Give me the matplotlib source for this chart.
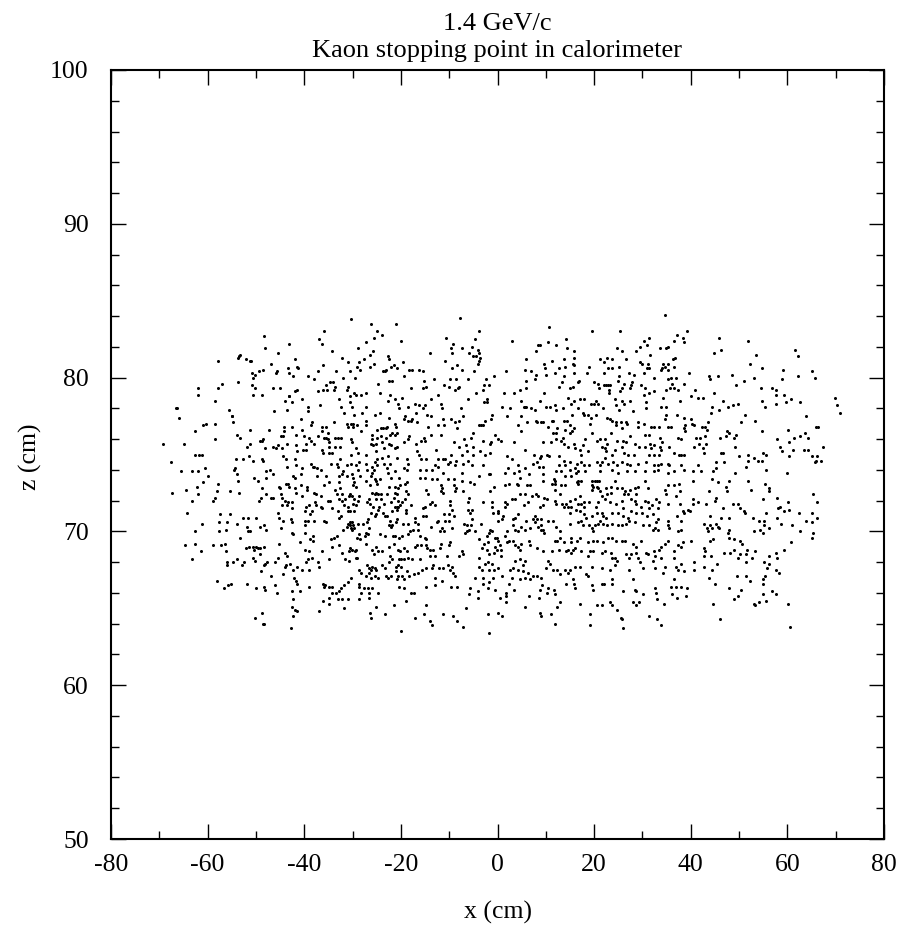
import numpy as np
import matplotlib
matplotlib.use("Agg")
import matplotlib.pyplot as plt
from matplotlib.ticker import MultipleLocator

# ---- data (x, z) in cm, grouped by region ----
region_far_left_upper = [
(-48.4,82.7),(-48.2,81.9),(-45.5,81.6),(-53.3,81.5),(-53.5,81.4),(-53.7,81.3),(-52.1,81.2),(-51.3,81.1),
(-51.0,81.1),(-57.9,81.1),(-46.8,80.9),(-48.5,80.5),(-49.4,80.4),(-50.2,80.2),(-50.8,80.3),(-45.6,80.4),
(-45.8,80.3),(-50.7,80.0),(-43.4,80.6),(-53.7,79.7),(-57.0,79.6),(-50.9,79.5),(-50.1,79.3),(-57.9,79.3),
(-61.9,79.3),(-62.0,78.9),(-46.5,79.3),(-45.0,79.3),(-50.7,78.9),(-48.7,78.9),(-43.2,78.8),(-58.5,78.5),
(-44.0,78.5),(-66.4,78.0),(-66.6,78.0),(-55.5,77.9),(-43.5,77.9),(-46.2,77.8),(-55.0,77.5),(-54.9,77.5),
(-65.9,77.4),(-54.7,77.1),(-58.5,77.0),(-60.4,77.0),(-61.0,76.9),(-44.1,76.8),(-62.6,76.5),(-51.2,76.6),
(-47.3,76.6),(-44.1,76.5),(-53.9,76.3),(-53.2,76.1),(-44.8,76.2),(-44.3,76.2),(-58.5,76.0),(-48.5,76.0),
(-48.8,75.9),(-49.1,75.9),(-69.3,75.7),(-64.9,75.7),(-51.3,75.7),(-51.8,75.5),(-46.5,75.5),(-45.8,75.4),
(-45.5,75.6),(-44.6,75.4),(-43.5,75.7),(-48.1,75.4),(-44.3,74.9),(-43.7,74.7),(-51.4,74.9),(-62.6,75.0),
(-61.8,75.0),(-61.1,75.0),(-67.5,74.5),(-54.2,74.7),(-52.7,74.7),(-50.6,74.6),(-48.7,74.7),(-48.5,74.6),
(-60.5,74.1),(-54.4,74.1),(-54.6,74.0),(-43.5,74.2),(-65.6,73.9),(-63.2,73.9),(-61.9,73.9),(-54.0,73.7),
(-47.9,73.9),(-47.0,74.0),(-46.4,73.7),
]

region_far_left_lower = [
(-59.9,73.6),(-53.7,73.3),(-50.4,73.5),(-49.6,73.3),(-47.9,73.5),(-61.0,73.2),(-57.9,73.1),(-62.1,72.9),
(-64.4,72.7),(-58.1,72.6),(-55.3,72.6),(-53.6,72.5),(-48.7,72.8),(-45.3,72.9),(-45.0,72.8),(-43.4,73.1),
(-43.7,73.1),(-43.2,72.9),(-67.3,72.5),(-61.9,72.4),(-48.0,72.4),(-44.9,72.4),(-58.4,72.2),(-58.8,72.0),
(-63.3,72.0),(-48.9,72.2),(-49.4,72.0),(-46.8,72.2),(-46.5,72.2),(-44.7,72.2),(-43.9,72.0),(-43.4,71.9),
(-44.6,71.7),(-43.6,71.7),(-64.2,71.2),(-57.5,71.1),(-55.4,71.1),(-52.6,70.9),(-51.6,70.9),(-50.0,70.9),
(-45.4,71.2),(-45.3,70.9),(-57.6,70.6),(-55.9,70.6),(-54.0,70.5),(-61.1,70.5),(-44.5,70.7),(-48.3,70.4),
(-49.2,70.3),(-47.9,70.1),(-51.9,70.3),(-44.9,70.2),(-56.3,70.1),(-57.7,70.0),(-62.6,70.0),(-51.6,70.0),
(-51.2,70.0),(-53.4,69.6),(-62.6,69.2),(-56.4,69.2),(-57.3,69.1),(-58.8,69.1),(-64.7,69.1),(-51.5,69.0),
(-50.6,69.0),(-49.9,69.0),(-49.5,68.9),(-48.4,69.0),(-49.2,68.9),(-52.1,68.9),(-45.2,69.2),(-56.2,68.7),
(-61.3,68.7),(-50.5,68.8),(-49.2,68.5),(-43.9,68.6),(-43.6,68.4),(-50.6,68.3),(-50.1,68.1),(-45.4,68.3),
(-54.0,68.2),(-63.2,68.2),(-55.9,68.0),(-54.7,68.0),(-52.5,68.0),(-47.8,68.0),(-48.1,67.9),(-48.4,67.8),
(-46.1,68.0),(-56.0,67.8),(-52.9,67.8),(-43.7,67.8),(-43.9,67.7),(-48.9,67.4),(-44.5,67.2),(-46.8,67.1),
(-58.0,66.8),(-55.7,66.5),(-55.2,66.6),(-51.9,66.6),(-56.6,66.3),(-49.9,66.3),(-48.4,66.4),(-48.2,66.2),
(-46.0,66.5),(-45.6,66.0),(-48.8,64.7),(-50.1,64.4),(-48.5,64.0),(-48.3,64.0),
]

region_left_upper = [
(-30.3,83.8),(-26.1,83.5),(-21.1,83.5),(-35.9,83.0),(-24.9,83.0),(-24.0,82.8),(-37.0,82.5),(-36.3,82.2),
(-43.1,82.2),(-25.6,82.6),(-19.9,82.4),(-27.2,82.3),(-28.8,81.9),(-34.3,81.7),(-26.3,81.5),(-25.7,81.7),
(-32.1,81.3),(-22.7,81.4),(-22.5,81.2),(-22.0,80.7),(-27.6,81.2),(-41.9,81.2),(-30.9,81.0),(-36.1,80.8),
(-19.6,81.0),(-28.7,81.0),(-29.1,80.7),(-28.5,80.5),(-41.4,80.7),(-41.3,80.6),(-26.4,80.7),(-25.6,80.9),
(-21.5,80.8),(-20.8,80.6),(-23.8,80.4),(-23.3,80.4),(-23.0,80.5),(-18.3,80.5),(-17.7,80.5),(-16.2,80.5),
(-15.4,80.4),(-37.1,80.4),(-33.5,80.4),(-30.5,80.4),(-42.4,80.1),(-43.1,80.3),(-39.2,80.1),(-19.3,80.1),
(-29.4,80.0),(-31.9,80.0),(-37.9,79.9),(-22.4,79.8),(-21.8,79.8),(-34.7,79.7),(-34.0,79.7),(-35.5,79.5),
(-15.2,79.8),(-33.7,79.4),(-33.8,79.2),(-31.0,79.4),(-31.2,79.2),(-24.8,79.6),(-36.1,79.2),(-35.3,79.2),
(-37.2,79.1),(-41.6,79.2),(-41.9,79.1),(-17.9,79.3),(-15.4,79.3),(-14.9,79.4),(-29.8,79.0),(-29.2,78.9),
(-28.2,78.9),(-27.3,79.0),(-30.5,78.8),(-24.4,79.0),(-22.3,78.9),(-22.7,78.5),(-19.7,78.7),(-21.3,78.6),
(-43.1,78.8),(-42.5,78.4),(-40.4,78.6),(-32.8,78.6),(-30.5,78.4),(-30.2,78.1),(-17.1,78.3),(-16.2,78.2),
(-15.1,78.2),(-15.4,78.0),(-27.2,78.1),(-36.8,78.2),(-39.3,78.1),(-39.2,77.8),(-32.4,78.1),(-20.5,78.3),
(-20.3,78.0),(-18.6,78.1),(-31.8,77.7),(-24.4,77.7),(-25.4,77.6),(-28.0,77.7),(-29.6,77.6),(-16.9,77.7),
(-17.8,77.3),(-19.2,77.5),(-19.4,77.3),(-14.5,77.6),(-40.7,77.3),(-22.5,77.4),(-38.3,77.1),(-38.6,76.9),
(-33.8,77.1),(-31.2,77.0),(-30.9,76.8),(-30.4,77.0),(-29.9,77.0),(-29.9,76.8),(-29.1,76.9),(-27.3,77.2),
(-27.3,76.9),(-42.5,76.8),(-36.3,76.8),(-35.4,76.8),(-36.3,76.5),(-25.0,76.6),(-24.2,76.7),(-23.8,76.7),
(-23.1,76.7),(-22.8,76.8),(-21.2,77.0),(-21.0,76.8),(-18.5,77.2),(-17.9,77.2),(-16.6,77.1),(-14.4,76.8),
(-40.4,76.6),(-35.0,76.4),(-41.8,76.3),(-39.0,76.1),(-38.6,75.9),(-40.0,76.2),(-37.2,76.2),(-36.0,76.1),
(-35.4,76.1),(-35.1,76.0),(-33.7,76.1),(-32.3,76.1),(-33.1,76.1),(-30.3,76.0),(-28.3,76.5),(-26.0,76.3),
(-25.9,76.0),(-25.0,76.1),(-24.1,76.2),(-23.1,76.1),(-22.2,76.3),(-21.8,76.4),(-21.3,76.3),(-20.7,76.4),
(-18.4,76.2),(-18.5,76.0),(-15.3,76.1),(-15.8,75.9),(-41.7,75.6),(-39.6,75.7),(-37.9,75.7),(-34.8,75.8),
(-30.1,75.8),(-26.1,75.7),(-25.7,75.6),(-25.2,75.7),(-23.9,75.8),(-22.4,75.7),(-22.1,75.6),(-19.3,75.8),
(-16.9,75.7),(-15.0,75.9),(-34.9,75.5),(-33.6,75.5),(-32.6,75.5),(-21.2,75.4),(-20.9,75.5),(-23.4,75.4),
(-41.4,75.2),(-39.7,75.3),(-40.3,75.3),(-36.4,75.3),(-36.2,75.1),(-34.9,75.1),(-34.2,75.1),(-29.2,75.4),
(-28.9,75.1),(-25.1,75.2),(-16.7,75.2),(-16.3,75.0),(-30.4,75.0),(-27.3,75.0),(-42.0,74.7),(-32.6,74.7),
(-22.6,74.9),(-20.7,74.8),(-24.9,74.7),(-24.0,74.8),(-15.9,74.7),(-14.9,74.7),(-18.8,74.7),(-38.6,74.4),
(-38.2,74.2),(-37.9,74.2),(-37.4,74.1),(-41.8,74.3),(-34.5,74.4),(-33.3,74.4),(-33.1,74.2),(-31.2,74.3),
(-30.3,74.4),(-29.3,74.3),(-28.6,74.5),(-27.3,74.4),(-25.4,74.5),(-24.9,74.3),(-25.9,74.2),(-23.4,74.4),
(-22.2,74.4),(-18.5,74.4),(-40.4,74.1),(-36.5,74.0),(-31.9,73.9),(-32.2,73.7),(-27.1,74.0),(-28.9,74.0),
(-30.1,73.7),(-26.0,73.8),(-25.5,74.0),(-22.9,74.1),(-22.7,73.8),(-21.3,73.9),(-18.7,74.0),(-19.4,74.1),
(-16.1,74.0),(-14.7,74.0),(-40.7,73.7),
]

region_left_lower = [
(-35.6,73.6),(-32.8,73.6),(-31.2,73.6),(-29.9,73.5),(-28.5,73.6),(-26.2,73.6),(-24.4,73.4),(-25.3,73.4),
(-41.9,73.5),(-42.4,73.6),(-37.3,73.6),(-22.1,73.5),(-20.4,73.5),(-16.1,73.5),(-15.1,73.5),(-29.7,73.2),
(-34.9,73.2),(-32.9,73.2),(-27.3,73.3),(-25.2,73.3),(-25.0,73.1),(-18.7,73.2),(-19.2,73.1),(-40.6,73.0),
(-39.4,72.9),(-39.4,72.7),(-42.0,72.8),(-35.9,73.0),(-33.6,72.7),(-32.6,72.8),(-30.0,73.0),(-29.3,72.9),
(-26.3,73.0),(-22.4,72.9),(-21.2,72.9),(-20.2,73.0),(-20.6,72.8),(-25.9,72.5),(-25.3,72.4),(-25.1,72.5),
(-24.8,72.4),(-24.2,72.4),(-41.8,72.5),(-37.9,72.5),(-37.5,72.4),(-36.5,72.3),(-33.3,72.4),(-32.1,72.4),
(-30.5,72.4),(-30.8,72.3),(-30.1,72.3),(-28.7,72.3),(-22.9,72.4),(-21.3,72.5),(-20.8,72.4),(-19.0,72.6),
(-18.6,72.4),(-14.9,72.7),(-14.4,72.4),(-40.4,72.3),(-35.1,72.0),(-34.7,72.0),(-32.8,72.1),(-32.2,72.0),
(-31.5,72.1),(-29.7,72.1),(-30.0,71.8),(-28.8,72.0),(-26.7,72.1),(-27.1,71.9),(-25.1,72.1),(-24.2,72.1),
(-22.0,71.9),(-21.4,72.2),(-20.6,72.0),(-19.7,71.9),(-19.1,72.1),(-37.8,71.9),(-37.5,71.7),(-39.1,71.7),
(-39.6,71.6),(-39.9,71.3),(-42.5,71.9),(-42.5,71.5),(-36.6,71.6),(-36.3,71.5),(-31.7,71.7),(-31.0,71.6),
(-29.2,71.7),(-26.3,71.8),(-25.8,71.6),(-24.5,71.6),(-23.5,71.8),(-21.3,71.6),(-20.9,71.6),(-20.5,71.6),
(-20.9,71.4),(-20.2,71.7),(-21.9,71.3),(-17.9,71.7),(-15.1,71.6),(-15.4,71.5),(-30.5,71.3),(-31.0,71.3),
(-29.7,71.3),(-33.1,71.3),(-38.4,71.3),(-38.8,71.1),(-34.3,71.5),(-24.7,71.4),(-23.6,71.2),(-25.2,71.1),
(-25.3,71.0),(-23.2,71.0),(-22.8,71.0),(-18.9,71.4),(-18.9,71.2),(-26.1,71.2),(-42.7,70.8),(-42.5,70.6),
(-39.9,70.7),(-39.2,70.7),(-37.9,70.7),(-35.9,70.7),(-35.5,70.6),(-32.8,70.9),(-32.4,71.0),(-26.8,70.8),
(-27.0,70.6),(-27.8,70.5),(-28.9,70.5),(-20.8,70.8),(-21.1,70.6),(-21.8,70.4),(-17.1,70.9),(-17.0,70.6),
(-16.5,70.5),(-15.4,71.0),(-14.9,71.0),(-19.6,70.5),(-18.6,70.5),(-22.2,70.7),(-22.5,70.4),(-22.0,70.3),
(-31.0,70.5),(-30.6,70.6),(-30.2,70.6),(-29.9,70.4),(-30.6,70.4),(-31.2,70.3),(-29.7,70.2),(-30.4,70.2),
(-30.1,70.1),(-39.9,70.4),(-39.8,69.9),(-31.9,70.1),(-26.5,70.2),(-27.3,69.9),(-27.4,69.7),(-26.8,69.8),
(-28.6,69.8),(-29.0,69.6),(-28.5,69.5),(-24.3,69.8),(-23.2,69.7),(-21.7,69.7),(-21.2,69.7),(-20.4,69.6),
(-19.7,69.7),(-18.5,69.8),(-18.1,70.0),(-17.5,70.1),(-16.4,70.1),(-16.0,69.7),(-15.1,69.6),(-14.9,69.5),
(-42.5,69.9),(-42.3,69.8),(-38.2,69.7),(-38.9,69.5),(-38.1,69.4),(-34.5,69.5),(-33.8,69.6),(-33.3,69.7),
(-40.9,69.3),(-34.2,69.0),(-32.9,69.1),(-36.3,68.7),(-39.9,68.8),(-39.0,68.7),(-30.1,68.8),(-30.5,68.9),
(-30.8,68.7),(-29.5,68.7),(-29.2,68.8),(-27.3,69.2),(-25.1,69.0),(-24.8,68.7),(-25.6,68.5),(-25.9,68.8),
(-24.0,68.7),(-22.5,69.0),(-21.4,69.2),(-20.5,68.8),(-20.1,68.7),(-19.4,68.9),(-18.7,68.7),(-17.1,69.0),
(-16.7,69.1),(-15.8,69.1),(-14.9,69.1),(-14.6,68.9),(-32.1,68.6),(-22.3,68.4),(-21.8,68.2),(-22.4,68.0),
(-20.4,68.2),(-19.9,68.2),(-19.3,68.2),(-18.5,68.3),(-29.3,68.3),(-29.0,68.3),(-30.7,68.1),(-31.6,68.2),
(-34.8,68.2),(-39.7,68.0),(-39.2,68.2),(-38.3,68.3),(-37.2,68.0),(-36.9,67.7),(-17.6,68.2),(-16.0,68.2),
(-27.1,67.8),(-26.6,67.6),(-26.0,67.7),(-26.1,67.5),(-25.4,67.6),(-25.1,67.5),(-23.9,67.8),(-23.2,67.6),
(-21.1,67.7),(-20.5,67.8),(-19.9,67.7),(-41.6,67.7),(-42.3,67.5),(-40.4,67.5),(-39.1,67.5),(-28.7,67.5),
(-28.3,67.3),(-21.1,67.4),(-20.6,67.1),(-20.8,66.9),(-18.7,67.4),(-18.3,67.1),(-17.2,67.2),(-16.5,67.3),
(-15.6,67.5),(-14.7,67.6),(-43.0,67.9),(-27.2,67.1),(-26.2,67.0),(-25.4,67.1),(-24.7,67.0),(-26.6,67.3),
(-23.0,67.1),(-22.6,67.0),(-22.0,67.1),(-30.3,67.0),(-31.0,66.7),(-31.7,66.5),(-42.2,67.0),(-41.7,66.8),
(-41.6,66.6),(-19.7,67.1),(-19.4,66.9),(-36.2,66.6),(-35.7,66.5),(-36.0,66.4),(-34.8,66.4),(-34.3,66.4),
(-28.7,66.6),(-28.7,66.4),(-27.7,66.3),(-26.8,66.3),(-26.0,66.3),(-32.4,66.3),(-32.8,66.1),(-33.5,66.0),
(-34.3,66.0),(-20.4,66.4),(-19.4,66.3),(-17.9,66.0),(-17.3,66.0),(-39.1,66.4),(-42.5,66.1),(-40.8,66.1),
(-28.3,66.0),(-26.6,66.0),(-26.6,65.7),(-24.7,66.0),(-14.9,66.4),(-34.8,65.7),(-36.2,65.5),(-34.9,65.3),
(-33.1,65.6),(-32.1,65.6),(-31.0,65.6),(-42.3,65.6),(-42.6,65.1),(-28.7,65.6),(-19.0,65.5),(-21.4,65.2),
(-25.1,65.1),(-31.7,65.0),(-14.9,65.2),(-41.9,64.9),(-41.6,64.8),(-36.9,64.8),(-42.3,64.5),(-26.4,64.7),
(-26.2,64.4),(-23.2,64.6),(-17.1,64.4),(-15.3,64.6),(-42.8,63.7),(-20.0,63.5),
]

region_centre_upper = [
(-7.8,83.9),(10.7,83.3),(-3.8,83.0),(-10.6,82.6),(-4.6,82.5),(-9.3,82.2),(-9.6,81.9),(-9.5,81.6),
(-7.3,81.9),(-5.2,82.0),(-4.0,81.8),(-3.8,81.6),(-5.9,81.6),(-5.1,81.4),(-4.5,81.4),(-4.1,80.9),
(3.0,82.4),(8.4,82.1),(8.8,82.1),(10.5,82.3),(12.2,82.1),(14.2,82.5),(14.3,81.9),(7.9,81.7),
(-14.0,81.6),(-10.8,81.1),(-8.4,80.8),(-9.5,80.6),(-7.4,80.5),(-3.6,81.3),(-3.9,81.1),(5.9,81.2),
(9.6,80.9),(11.3,81.1),(9.8,80.6),(13.7,81.2),(13.9,80.7),(12.7,80.6),(-4.8,80.4),(1.8,80.4),
(5.6,80.5),(7.0,80.4),(12.0,80.3),(10.0,80.2),(8.0,80.2),(-13.1,79.9),(-9.9,79.9),(-8.6,79.9),
(-6.2,79.9),(-2.3,79.9),(-0.8,80.1),(6.0,79.8),(5.9,79.3),(7.7,79.9),(13.7,80.1),(13.4,79.7),
(-11.0,79.5),(-10.0,79.4),(-7.9,79.4),(-8.2,79.3),(-8.9,79.2),(-2.8,79.5),(-2.9,79.2),(-4.4,79.0),
(-1.7,79.5),(-12.3,78.9),(12.7,79.4),(1.4,79.0),(3.5,79.0),(4.7,79.2),(4.9,78.5),(9.7,79.0),
(-6.1,78.6),(-2.2,78.6),(-2.1,78.4),(-2.7,78.4),(8.8,78.5),(-13.7,78.6),(-11.6,78.3),(-11.4,78.0),
(-7.6,78.0),(1.0,78.1),(2.6,78.0),(5.4,78.1),(5.7,78.1),(6.0,78.1),(7.0,78.0),(7.8,77.9),
(10.0,78.1),(10.9,78.1),(11.9,78.2),(12.2,77.9),(13.5,78.0),(-13.7,77.5),(-7.1,77.5),(-8.0,77.2),
(-8.9,77.1),(-9.7,77.3),(-11.3,77.3),(-1.1,77.6),(-1.3,77.3),(-2.5,77.2),(2.0,77.5),(4.8,77.5),
(7.9,77.2),(8.1,77.1),(9.5,77.1),(9.1,77.1),(11.2,77.2),(11.5,77.2),(13.8,77.2),(14.3,77.2),
(13.9,76.6),(-12.3,76.9),(-11.1,76.9),(-8.3,76.7),(-3.8,76.9),(-3.4,76.9),(-3.0,76.9),(4.2,76.9),
(6.1,77.1),(10.4,76.8),(12.4,76.7),(4.9,76.5),(-0.5,76.3),(12.1,76.4),(11.5,76.4),(-13.7,76.3),
(-11.6,76.3),(-5.1,76.4),(-7.0,76.0),(-5.5,76.1),(-6.5,75.6),(-2.9,75.9),(-1.6,75.7),(-1.3,75.8),
(0.2,76.0),(0.7,75.9),(3.5,75.8),(5.7,75.3),(9.4,75.8),(11.0,75.8),(12.2,76.0),(13.1,75.9),
(13.6,76.1),(13.8,75.7),(14.5,75.5),(-9.1,75.8),(-7.9,75.5),(-5.1,75.5),(-12.8,75.3),(-6.4,75.2),
(-5.0,75.0),(-7.3,75.0),(-9.6,75.0),(-3.6,75.2),(-1.5,75.1),(-2.6,75.0),(1.9,74.9),(3.0,74.7),
(7.6,75.0),(9.1,74.9),(10.3,75.0),(10.6,74.9),(8.7,74.8),(12.7,74.9),(13.7,74.6),(-12.4,74.7),
(-11.2,74.7),(-10.8,74.7),(-10.3,74.4),(-9.9,74.5),(-8.5,74.6),(-8.7,74.3),(-7.2,74.4),(-6.2,74.6),
(-13.0,74.3),(-12.3,74.2),(-13.5,74.0),(-5.2,74.3),(-3.0,74.3),(-1.6,73.7),(2.1,74.1),(4.3,74.3),
(5.6,74.1),(7.3,74.4),(8.1,74.5),(8.5,74.2),(9.5,74.2),(12.7,74.3),(13.9,74.3),(-11.3,73.8),
(-7.3,73.8),(1.6,73.8),(3.4,73.8),(4.5,73.9),(6.6,73.7),(12.1,73.9),(13.1,73.9),
]

region_centre_lower = [
(-3.9,73.6),(-1.8,73.7),(4.7,73.5),(9.5,73.7),(12.0,73.3),(14.0,73.6),(-13.6,73.4),(-12.6,73.4),
(-11.6,73.0),(-11.4,72.8),(-11.6,72.6),(-11.2,72.5),(-10.2,73.4),(-9.0,73.4),(-9.1,73.0),(-8.5,72.8),
(-8.7,72.6),(-7.1,72.6),(-7.3,73.3),(-5.7,73.2),(-4.8,73.1),(-1.6,72.6),(-0.7,72.9),(1.5,73.0),
(2.4,73.1),(4.0,73.1),(4.2,73.0),(6.1,73.0),(6.8,73.0),(4.7,72.4),(5.7,72.4),(7.1,72.3),
(7.9,72.4),(8.4,72.3),(9.5,73.3),(11.2,73.1),(11.6,73.4),(12.0,73.1),(13.1,73.0),(13.9,73.0),
(9.7,72.2),(10.2,72.1),(11.8,72.0),(12.2,71.8),(13.3,71.8),(14.1,71.8),(13.7,71.6),(14.5,71.6),
(12.0,72.7),(12.9,72.4),(8.8,71.6),(9.5,71.7),(-13.5,71.9),(-13.9,71.8),(-13.0,71.7),(-9.9,72.0),
(-9.8,71.7),(-9.4,71.4),(-5.9,72.2),(-6.2,71.9),(-6.2,71.4),(-5.3,71.4),(-5.7,71.2),(-3.1,71.9),
(-1.1,71.9),(-1.1,71.6),(-1.0,71.2),(0.0,71.2),(0.2,71.3),(1.6,71.9),(1.5,71.6),(2.0,71.8),
(3.0,72.1),(3.7,72.1),(5.4,71.7),(6.3,71.9),(1.2,71.0),(1.0,70.8),(0.1,70.7),(3.3,70.8),
(3.7,70.9),(4.3,71.1),(5.8,70.7),(7.3,70.8),(7.7,71.0),(8.2,70.8),(9.0,70.8),(9.1,70.4),
(9.5,70.1),(9.7,69.9),(9.0,70.1),(10.5,70.7),(11.4,70.7),(12.2,70.3),(12.9,70.0),(12.3,69.4),
(11.8,69.4),(12.9,69.6),(13.7,69.3),(-11.1,71.1),(-10.1,71.1),(-9.1,71.0),(-10.0,70.7),(-10.8,70.7),
(-12.3,70.7),(-12.5,70.6),(-13.7,70.3),(-7.0,70.5),(-6.4,70.4),(-5.5,70.4),(-5.8,70.1),(-6.3,70.0),
(-5.3,70.8),(-3.4,70.5),(-11.4,70.2),(-11.0,70.0),(-11.8,70.0),(-9.4,70.2),(-1.6,70.1),(-1.2,70.0),
(-1.8,69.9),(-4.6,70.0),(1.9,70.0),(3.6,70.1),(4.2,70.0),(5.7,70.1),(6.8,70.2),(4.9,70.3),
(3.3,70.4),(8.4,70.3),(7.7,70.6),(-6.8,69.9),(-2.2,69.7),(-0.6,69.6),(-0.2,69.6),(0.2,69.4),
(-1.9,69.3),(1.6,69.7),(2.3,69.4),(2.0,69.3),(3.3,69.4),(3.7,69.1),(4.2,69.0),(4.7,68.8),
(4.9,69.2),(-3.9,69.5),(-2.7,69.2),(-3.2,68.9),(-2.2,68.8),(-0.6,69.0),(0.6,69.1),(0.7,68.8),
(-0.2,68.8),(6.6,69.4),(6.8,69.1),(8.1,68.9),(9.5,68.7),(11.2,68.7),(12.7,68.8),(14.1,68.7),
(14.5,68.8),(-9.9,69.3),(-10.1,69.1),(-11.6,69.2),(-12.0,68.9),(-13.3,68.8),(-13.9,68.8),(-7.3,68.7),
(-7.1,68.5),(-8.0,68.4),(-10.4,68.4),(-13.0,68.4),(-13.9,68.4),(-3.9,68.3),(-1.7,68.5),(-0.8,68.6),
(0.8,68.4),(3.6,68.1),(4.7,68.2),(5.7,68.1),(5.2,67.8),(10.5,68.1),(10.8,67.9),(10.0,67.6),
(11.4,67.5),(-13.3,67.8),(-13.5,67.6),(-12.1,67.6),(-11.3,67.6),(-10.3,67.8),(-9.9,67.5),(-9.4,67.7),
(-9.2,67.3),(-3.9,67.7),(-3.2,67.5),(-2.5,67.9),(-1.9,68.0),(-1.7,67.5),(-1.1,67.9),(-0.8,67.5),
(0.2,67.6),(2.5,67.5),(3.3,67.6),(4.2,67.5),(5.2,67.4),(6.3,67.3),(7.4,67.1),(8.1,67.1),
(9.1,67.0),(12.3,67.5),(12.9,67.2),(13.9,67.5),(14.5,67.3),(-13.0,67.0),(-11.4,66.8),(-8.7,67.1),
(-13.0,66.5),(-4.6,67.0),(-2.9,67.0),(-0.9,67.0),(0.9,67.1),(2.3,66.6),(3.1,67.0),(4.7,66.9),
(5.7,67.0),(6.8,66.9),(-2.9,66.6),(-1.8,66.7),(-2.0,66.3),(-9.6,66.4),(-8.4,66.4),(-5.6,66.3),
(-4.1,66.1),(-0.5,66.2),(1.7,66.0),(1.7,65.8),(3.5,66.2),(8.8,66.2),(9.3,66.5),(10.5,66.3),
(11.6,66.2),(11.8,65.9),(14.1,66.6),(-6.0,65.9),(-4.1,65.7),(0.6,65.7),(1.8,65.4),(6.6,65.8),
(8.6,65.7),(10.2,66.0),(12.4,65.1),(13.0,65.4),(5.6,65.1),(-6.5,65.0),(-11.3,64.6),(-9.2,64.5),
(-8.4,64.2),(-7.2,63.8),(-13.9,64.2),(-13.5,63.9),(-2.0,64.6),(0.0,64.7),(1.0,64.5),(8.8,64.7),
(9.0,64.5),(11.1,64.6),(11.9,64.0),(-1.8,63.4),
]

region_right_upper = [
(34.7,84.1),(19.5,83.0),(25.3,83.0),(37.1,82.8),(39.2,83.0),(38.4,82.6),(38.7,82.3),(36.5,82.4),
(31.3,82.6),(30.3,82.4),(31.0,82.1),(29.4,82.0),(33.6,81.9),(34.8,81.9),(35.3,82.0),(24.8,81.9),
(25.7,81.7),(28.7,81.7),(31.6,81.5),(15.8,81.7),(15.9,81.3),(15.7,80.9),(21.3,81.2),(22.0,81.0),
(22.6,81.3),(23.6,81.2),(26.6,81.2),(29.4,81.0),(29.9,80.9),(31.2,80.9),(30.9,80.6),(31.4,80.6),
(34.2,80.9),(34.0,80.6),(35.3,80.9),(36.4,81.2),(36.7,81.3),(36.6,80.7),(35.3,80.5),(34.6,80.7),
(33.8,80.5),(15.9,80.8),(18.9,80.7),(22.9,80.6),(23.6,80.6),(25.2,80.7),(22.0,80.3),(18.5,80.3),
(15.9,80.3),(25.1,80.1),(25.0,79.8),(27.2,80.3),(28.2,80.2),(30.3,80.3),(39.7,80.3),(32.3,80.0),
(35.3,79.9),(36.0,80.0),(37.0,80.0),(16.9,79.8),(16.7,79.7),(19.9,79.7),(20.9,79.6),(22.0,79.5),
(22.5,79.5),(22.9,79.5),(23.2,79.5),(21.0,79.3),(23.0,79.2),(15.7,79.4),(15.0,79.3),(27.4,79.3),
(27.7,79.5),(27.9,79.7),(26.2,79.6),(25.7,79.3),(25.4,79.1),(29.6,79.5),(30.5,79.3),(31.3,79.0),
(32.3,79.1),(34.9,79.2),(35.8,79.3),(36.2,79.6),(36.6,79.3),(37.3,79.2),(38.6,79.6),(37.7,78.5),
(40.8,79.2),(40.1,78.8),(41.4,78.7),(42.5,78.7),(14.6,78.7),(15.2,78.3),(15.9,78.5),(17.1,78.6),
(17.9,78.6),(20.3,78.5),(20.0,78.3),(21.8,78.0),(20.7,78.3),(19.3,78.3),(23.1,79.0),(24.3,78.6),
(25.7,78.5),(26.2,78.3),(27.5,78.5),(30.3,78.9),(30.7,78.4),(30.8,78.0),(34.2,78.7),(33.9,78.1),
(34.8,78.1),(28.1,77.8),(25.2,77.9),(24.6,78.2),(16.7,78.0),(17.7,77.7),(17.9,77.6),(18.7,77.6),
(15.4,77.6),(19.3,77.4),(20.4,77.6),(22.7,77.4),(23.2,77.3),(23.8,77.2),(24.5,77.1),(25.5,77.1),
(24.6,76.9),(26.5,77.1),(26.8,77.0),(25.7,76.7),(29.1,77.1),(29.1,76.8),(30.4,77.0),(31.7,76.8),
(32.3,76.8),(33.4,76.8),(34.8,77.6),(34.6,77.3),(35.3,76.8),(35.9,76.8),(37.2,77.6),(38.6,77.4),
(38.8,76.9),(40.0,77.3),(40.2,77.0),(40.7,76.9),(42.4,76.8),(43.0,76.8),(43.4,76.6),(15.1,76.9),
(15.9,76.7),(15.5,76.5),(15.0,76.4),(19.2,77.0),(19.5,76.4),(20.5,75.9),(18.2,76.0),(21.3,76.0),
(23.4,76.4),(22.3,76.0),(22.7,75.7),(21.6,75.5),(24.8,75.9),(25.9,75.9),(26.5,75.8),(27.4,76.2),
(28.4,75.7),(30.5,76.3),(31.3,76.3),(31.6,75.7),(32.3,75.6),(33.6,75.5),(34.0,75.8),(33.6,76.1),
(37.3,76.1),(37.9,76.0),(38.6,76.7),(38.8,76.5),(41.1,76.1),(42.0,76.1),(43.0,76.2),(43.2,75.7),
(15.8,75.7),(17.7,75.6),(16.0,75.4),(17.0,75.3),(18.7,75.2),(17.3,75.0),(22.2,75.4),(22.5,75.2),
(24.3,75.3),(23.7,75.0),(22.2,74.8),(25.7,75.5),(26.2,75.1),(27.1,75.0),(28.2,75.0),(29.3,75.5),
(30.5,75.5),(31.8,75.4),(31.4,75.0),(32.3,75.0),(33.5,75.0),(33.8,75.3),(35.5,75.5),(36.6,75.1),
(37.5,75.0),(38.0,75.0),(38.7,75.0),(40.7,75.5),(41.8,75.7),(42.5,75.4),(42.8,75.1),(15.0,74.5),
(16.4,74.4),(17.3,74.5),(18.0,74.3),(19.0,74.3),(20.5,74.5),(21.2,74.3),(21.6,74.5),(22.9,74.4),
(23.9,74.5),(24.8,74.3),(25.7,74.5),(26.8,74.4),(27.5,74.3),(29.1,74.4),(30.8,74.5),(32.3,74.3),
(33.2,74.3),(33.9,74.4),(35.2,74.4),(35.6,74.3),(38.0,74.3),(38.7,74.0),(41.4,74.3),(42.1,73.9),
(15.0,74.0),(16.0,74.1),(16.7,73.9),(16.2,73.8),(18.2,73.9),(21.2,73.9),(23.6,74.0),(25.0,73.8),
(26.8,73.9),(28.4,73.9),(30.6,73.9),(32.3,73.9),(33.2,74.0),(35.2,73.8),(36.5,73.9),(40.4,73.9),
]

region_right_lower = [
(15.3,73.6),(16.4,73.2),(16.7,73.3),(17.2,73.3),(16.6,73.1),(19.5,73.3),(20.2,73.3),(20.5,73.3),
(21.0,73.3),(19.5,73.0),(19.8,72.9),(20.5,72.9),(21.2,72.6),(20.9,72.8),(19.5,72.7),(22.5,72.8),
(23.4,72.9),(24.3,73.3),(24.8,72.8),(25.7,72.8),(26.4,72.6),(27.5,72.7),(28.4,72.8),(29.1,72.9),
(30.5,73.3),(22.7,72.4),(23.4,72.5),(22.3,72.1),(21.6,72.3),(26.2,72.4),(27.0,72.4),(27.7,72.1),
(28.7,72.4),(31.2,72.8),(35.3,73.0),(34.7,72.7),(36.5,73.0),(37.7,72.6),(37.5,73.1),(40.4,73.3),
(16.0,72.1),(15.0,72.0),(17.0,72.3),(17.3,71.8),(16.7,71.8),(18.0,71.9),(18.9,71.9),(18.0,71.6),
(20.9,71.9),(20.4,71.6),(23.2,71.9),(24.6,71.8),(25.7,72.0),(26.0,71.5),(28.4,72.0),(28.7,71.8),
(30.5,72.0),(29.6,71.6),(31.2,71.9),(32.0,71.7),(31.4,71.5),(33.2,71.5),(33.5,71.9),(32.8,72.1),
(34.9,72.4),(35.3,71.8),(36.9,72.3),(37.7,71.8),(38.3,71.3),(38.7,71.2),(39.4,71.4),(40.5,71.8),
(41.4,71.9),(40.4,72.1),(43.2,71.8),(15.0,71.2),(15.3,71.6),(16.2,71.4),(17.0,71.3),(17.9,71.1),
(18.4,70.9),(19.5,71.0),(20.5,71.2),(21.6,71.2),(21.9,71.0),(22.5,70.9),(21.2,70.7),(23.6,71.2),
(25.0,71.2),(26.0,71.0),(27.0,70.9),(27.7,71.3),(28.7,71.2),(30.0,71.2),(31.0,71.0),(32.1,71.1),
(33.2,70.8),(32.8,70.6),(35.3,70.7),(37.1,71.0),(38.0,70.7),(39.8,71.3),(15.0,70.5),(16.7,70.6),
(17.3,70.7),(17.7,70.4),(18.9,70.4),(19.5,70.2),(20.2,70.4),(19.8,70.0),(20.9,70.5),(21.8,70.5),
(22.7,70.4),(23.6,70.5),(25.0,70.4),(25.7,70.4),(26.6,70.5),(27.2,70.7),(28.4,70.6),(30.1,70.4),
(31.4,70.4),(32.5,70.2),(32.1,70.1),(33.2,70.1),(35.3,70.4),(35.4,70.2),(38.0,70.1),(37.3,70.0),
(42.8,70.5),(43.4,70.2),(15.3,69.6),(15.2,69.3),(16.4,69.4),(17.0,69.6),(15.7,68.8),(16.0,68.9),
(17.2,68.7),(15.2,68.6),(18.7,69.3),(19.8,69.4),(20.5,69.4),(21.9,69.3),(22.9,69.6),(23.6,69.6),
(24.6,69.4),(25.7,69.4),(26.3,69.4),(28.0,69.2),(28.7,69.0),(29.8,69.4),(30.8,68.6),(32.3,68.7),
(33.5,68.8),(33.9,69.0),(34.6,69.2),(35.3,69.4),(36.6,68.7),(37.3,69.1),(38.0,69.0),(38.3,69.3),
(40.0,69.4),(42.8,68.9),(43.0,68.7),(19.1,68.7),(19.8,68.7),(18.7,68.4),(21.6,68.6),(22.3,68.7),
(23.4,68.6),(24.3,68.3),(23.6,68.3),(24.8,68.1),(26.6,68.5),(27.7,68.5),(27.3,68.3),(28.7,68.6),
(29.4,68.0),(31.2,68.5),(32.1,68.1),(32.6,68.4),(33.9,68.3),(36.6,68.3),(38.0,67.9),(40.6,68.0),
(42.7,68.4),(15.0,67.5),(16.0,67.7),(17.0,67.7),(18.4,67.2),(19.5,67.7),(21.6,67.6),(23.2,67.5),
(24.3,67.8),(27.3,67.5),(29.1,68.3),(30.1,67.6),(32.5,67.6),(34.2,67.3),(34.6,67.7),(36.9,67.7),
(37.3,67.5),(38.7,67.4),(40.7,67.5),(42.8,67.7),(15.7,66.9),(15.9,66.6),(16.0,66.3),(18.7,67.1),
(19.6,66.5),(19.8,66.2),(21.6,66.6),(22.0,66.6),(23.6,66.9),(23.6,66.6),(26.0,66.1),(28.0,66.9),
(28.4,66.2),(28.7,66.1),(30.1,65.9),(32.6,66.3),(32.8,66.0),(33.0,65.6),(36.6,66.9),(35.9,66.4),
(36.9,66.4),(38.0,66.4),(39.3,66.3),(36.2,65.9),(37.2,65.7),(39.1,65.8),(17.0,65.3),(19.1,64.6),
(19.2,63.9),(20.6,65.2),(21.7,65.2),(23.2,65.4),(23.6,65.2),(24.8,64.9),(25.5,64.4),(25.8,64.3),
(26.0,63.7),(28.0,65.4),(28.7,65.2),(29.2,65.4),(31.4,64.5),(33.0,64.3),(33.8,63.9),(34.4,65.3),
]

region_far_right_upper = [
(45.8,82.6),(51.9,82.4),(46.3,81.8),(44.9,81.6),(53.6,81.5),(61.6,81.8),(62.2,81.4),(52.2,80.9),
(54.8,80.6),(59.0,80.5),(58.8,79.9),(65.0,80.4),(65.7,80.0),(48.5,80.2),(45.6,80.1),(43.7,80.1),
(43.9,79.9),(53.1,80.0),(51.0,79.8),(62.2,80.1),(49.4,79.5),(54.5,79.3),(56.9,79.3),(57.7,79.2),
(57.6,78.9),(44.8,79.0),(59.3,78.9),(46.7,78.5),(54.8,78.5),(59.7,78.4),(60.8,78.6),(62.7,78.4),
(57.7,78.3),(69.9,78.7),(70.3,78.2),(70.8,77.7),(47.8,78.1),(48.7,78.2),(49.7,78.3),(44.3,78.1),
(45.8,77.9),(44.1,77.7),(55.4,78.1),(51.3,77.6),(63.9,77.5),(43.6,77.1),(50.5,77.1),(53.3,77.2),
(65.9,76.8),(66.3,76.8),(60.2,76.6),(54.7,76.5),(47.6,76.5),(48.0,76.4),(47.3,76.2),(49.4,76.3),
(48.9,76.1),(46.0,76.1),(62.7,76.2),(63.7,76.4),(64.3,76.1),(61.4,76.1),(60.4,75.8),(57.8,76.0),
(67.4,75.5),(49.1,75.5),(58.4,75.5),(58.8,75.2),(61.2,75.3),(63.5,75.3),(64.3,75.3),(46.3,75.1),
(46.7,75.1),(49.9,74.9),(51.8,75.0),(51.9,74.6),(53.1,74.8),(55.0,75.1),(55.6,75.0),(54.0,74.6),
(54.7,74.6),(60.4,74.9),(65.0,74.9),(66.2,74.9),(66.9,74.6),(66.0,74.6),(65.7,74.5),(45.2,74.5),
(46.9,74.5),(51.5,74.2),(45.3,74.1),(44.6,73.9),(49.2,73.8),(55.6,74.0),(60.0,73.8),
]

region_far_right_lower = [
(44.4,73.4),(45.7,73.2),(47.9,73.3),(51.9,73.3),(47.3,72.9),(47.6,72.6),(43.7,72.6),(52.4,72.7),
(55.3,73.1),(56.2,72.8),(56.3,72.6),(45.3,72.2),(45.1,72.0),(48.7,71.8),(49.7,71.8),(57.9,72.2),
(54.9,72.1),(60.2,71.9),(65.3,72.4),(66.2,71.9),(46.7,71.5),(50.1,71.5),(51.0,71.3),(51.2,71.2),
(58.1,71.5),(58.5,71.6),(59.4,71.3),(60.4,71.4),(55.5,71.2),(62.5,71.2),(65.0,71.2),(66.2,70.9),
(43.9,71.0),(46.2,70.9),(48.0,70.9),(52.9,70.9),(57.8,70.9),(54.2,70.7),(55.2,70.7),(63.9,70.7),
(65.0,70.6),(45.3,70.5),(45.6,70.3),(45.8,70.2),(43.9,70.4),(44.5,70.2),(55.1,70.4),(58.6,70.5),
(61.0,70.4),(56.1,70.2),(43.6,70.0),(48.0,70.1),(47.8,69.9),(53.1,70.0),(54.3,70.1),(54.9,69.9),
(62.6,70.0),(65.4,69.9),(65.1,69.6),(43.9,69.4),(44.6,69.5),(48.0,69.6),(49.0,69.5),(50.2,69.4),
(50.7,69.2),(60.8,69.3),(49.0,68.8),(51.7,68.8),(53.3,68.7),(59.2,68.8),(46.9,68.6),(48.1,68.6),
(50.1,68.5),(51.5,68.5),(49.7,68.3),(52.6,68.3),(56.2,68.4),(57.7,68.6),(57.9,68.3),(44.1,68.4),
(45.4,67.9),(51.5,68.0),(55.1,68.0),(56.1,67.9),(44.3,67.5),(55.7,67.6),(57.6,67.5),(58.2,67.3),
(43.7,67.0),(49.5,67.1),(51.4,67.1),(55.3,67.1),(54.9,66.9),(52.2,66.8),(45.1,66.6),(55.0,66.6),
(48.0,66.3),(50.5,66.2),(56.8,66.1),(57.7,65.9),(49.7,65.8),(48.9,65.6),(54.9,65.9),(53.0,65.3),
(53.2,65.2),(54.2,65.4),(55.6,65.5),(44.6,65.3),(60.2,65.3),(46.1,64.3),(60.6,63.8),
]

regions = [region_far_left_upper, region_far_left_lower, region_left_upper, region_left_lower,
           region_centre_upper, region_centre_lower, region_right_upper, region_right_lower,
           region_far_right_upper, region_far_right_lower]
pts = np.array([p for r in regions for p in r])
x_cm, z_cm = pts[:, 0], pts[:, 1]

title_lines = ["1.4 GeV/c", "Kaon stopping point in calorimeter"]
x_label, z_label = "x (cm)", "z (cm)"
x_ticks = [-80, -60, -40, -20, 0, 20, 40, 60, 80]
z_ticks = [50, 60, 70, 80, 90, 100]

# ---- figure ----
plt.rcParams['font.family'] = ['Liberation Serif', 'DejaVu Serif']
plt.rcParams['axes.unicode_minus'] = False
fig = plt.figure(figsize=(9.06, 9.39), dpi=100)
ax_left, ax_right, ax_top, ax_bottom = 111, 884, 70, 839
ax = fig.add_axes([ax_left/906, 1-ax_bottom/939, (ax_right-ax_left)/906, (ax_bottom-ax_top)/939])

ax.plot(x_cm, z_cm, linestyle='none', marker='o', ms=2.2, mew=0, color='black')

ax.set_xlim(-80, 80)
ax.set_ylim(50, 100)
ax.set_xticks(x_ticks)
ax.set_yticks(z_ticks)
ax.xaxis.set_minor_locator(MultipleLocator(10))
ax.yaxis.set_minor_locator(MultipleLocator(2))
ax.tick_params(which='both', direction='in', top=True, right=True, width=1.0, color='black')
ax.tick_params(which='major', length=11)
ax.tick_params(which='minor', length=6)
ax.tick_params(axis='x', which='major', labelsize=18.5, pad=11)
ax.tick_params(axis='y', which='major', labelsize=18.5, pad=16)
for s in ax.spines.values():
    s.set_linewidth(1.5)

xc = (ax_left + ax_right) / 2 / 906
fig.text(xc, 1-30/939, title_lines[0], ha='center', va='baseline', fontsize=19)
fig.text(xc, 1-57/939, title_lines[1], ha='center', va='baseline', fontsize=19)
fig.text(xc, 1-912/939, x_label, ha='center', va='center', fontsize=18.5)
fig.text(30/906, 1-457/939, z_label, ha='center', va='center', rotation=90, fontsize=18.5)

fig.savefig("out.png", dpi=100)
